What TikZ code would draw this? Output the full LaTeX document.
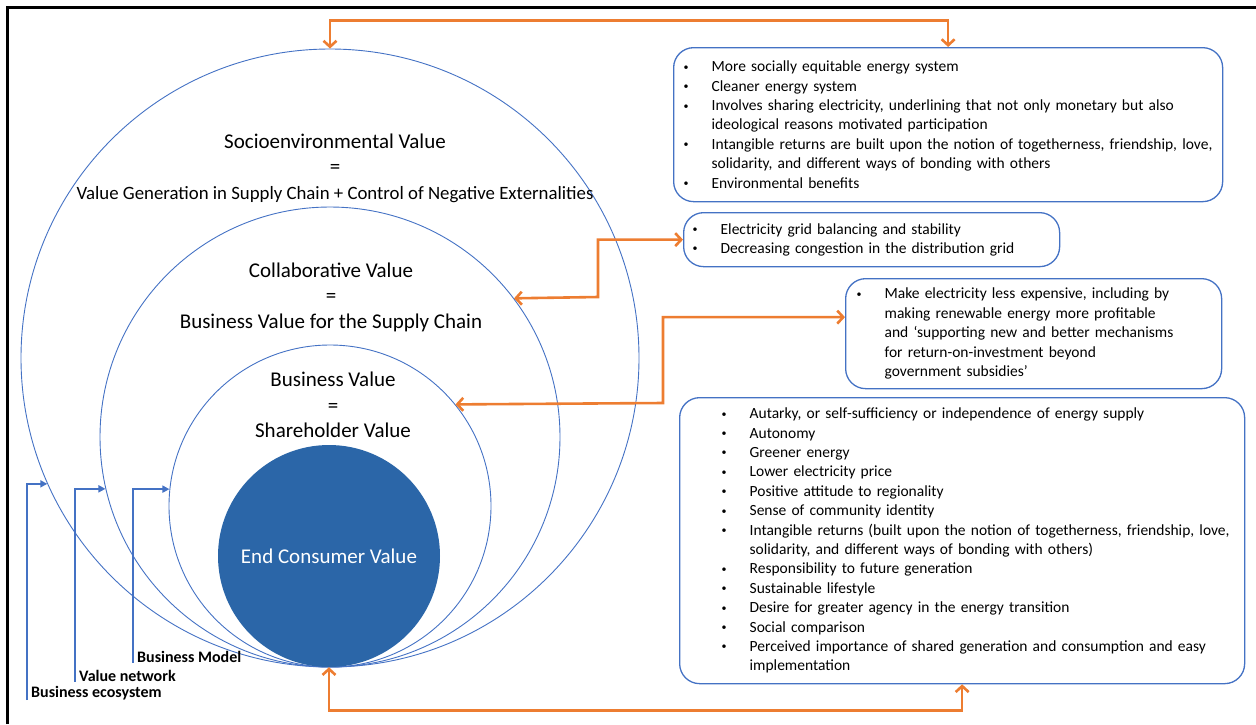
\documentclass[tikz,border=0pt]{standalone}
\usepackage{fontspec}
\setmainfont{Carlito}
\usetikzlibrary{arrows.meta}

\definecolor{dialineblue}{rgb}{0.267,0.447,0.769}
\definecolor{dialineorange}{rgb}{0.929,0.490,0.192}
\definecolor{diafillblue}{rgb}{0.17,0.40,0.66}

\newlength{\bulw}
\setlength{\bulw}{28pt}
\newcommand{\smallbul}{\raisebox{1.5pt}{\fontsize{10}{12}\selectfont\textbullet}}
\newcommand{\itm}[1]{\mbox{\makebox[\bulw][l]{\smallbul}#1}}
\newcommand{\cnt}[1]{\mbox{\hspace*{\bulw}#1}}

\tikzset{
  ring/.style={circle, draw=dialineblue, line width=0.9pt, inner sep=0pt},
  valtext/.style={font=\fontsize{21}{25.5}\selectfont, align=center, inner sep=0pt},
  listbox/.style={draw=dialineblue, line width=1.3pt, rounded corners=20pt,
    anchor=north west, align=left, inner ysep=2pt,
    font=\fontsize{15.5}{19.4}\selectfont},
  link/.style={draw=dialineorange, line width=2.6pt,
    {Straight Barb[length=6pt,width=13pt]}-{Straight Barb[length=6pt,width=13pt]}},
  levelarrow/.style={draw=dialineblue, line width=2.4pt, -{Triangle[length=7pt,width=7pt]}},
  levellabel/.style={anchor=west, inner xsep=4pt, inner ysep=0pt,
    font=\fontsize{16}{19}\selectfont\bfseries},
}

\begin{document}
\begin{tikzpicture}[x=1pt, y=-1pt]
\useasboundingbox (0,0) rectangle (1256,724);
\draw[line width=3pt] (7,724) -- (7,7) -- (1256,7);

% nested value circles
\node[ring, minimum size=618pt] (outer) at (330,358) {};
\node[ring, minimum size=460pt] (collab) at (330,437) {};
\node[ring, minimum size=322pt] (biz) at (330,506) {};
\node[circle, fill=diafillblue, inner sep=0pt, minimum size=222pt,
  text=white, font=\fontsize{21}{25}\selectfont] (consumer) at (329,556) {End Consumer Value};

\node[valtext] (sociotxt) at (335,168) {Socioenvironmental Value\\=\\{\fontsize{18.8}{22}\selectfont Value Generation in Supply Chain + Control of Negative Externalities}};
\node[valtext] (collabtxt) at (331,297) {Collaborative Value\\=\\Business Value for the Supply Chain};
\node[valtext] (biztxt) at (333,405) {Business Value\\=\\Shareholder Value};

% lists
\node[listbox, minimum width=549pt, minimum height=154pt, inner xsep=10pt, text width=529pt] (box1) at (673,47) {%
\itm{More socially equitable energy system}\\
\itm{Cleaner energy system}\\
\itm{Involves sharing electricity, underlining that not only monetary but also}\\
\cnt{ideological reasons motivated participation}\\
\itm{Intangible returns are built upon the notion of togetherness, friendship, love,}\\
\cnt{solidarity, and different ways of bonding with others}\\
\itm{Environmental benefits}};

\node[listbox, minimum width=376pt, minimum height=54pt, inner xsep=9pt, text width=358pt] (box2) at (683,212) {%
\itm{Electricity grid balancing and stability}\\
\itm{Decreasing congestion in the distribution grid}};

\node[listbox, minimum width=376pt, minimum height=110pt, inner xsep=11pt, text width=354pt] (box3) at (845,278) {%
\itm{Make electricity less expensive, including by}\\
\cnt{making renewable energy more profitable}\\
\cnt{and `supporting new and better mechanisms}\\
\cnt{for return-on-investment beyond}\\
\cnt{government subsidies'}};

\node[listbox, minimum width=565pt, minimum height=286pt, inner xsep=42pt, text width=481pt] (box4) at (679,397) {%
\itm{Autarky, or self-sufficiency or independence of energy supply}\\
\itm{Autonomy}\\
\itm{Greener energy}\\
\itm{Lower electricity price}\\
\itm{Positive attitude to regionality}\\
\itm{Sense of community identity}\\
\itm{Intangible returns (built upon the notion of togetherness, friendship, love,}\\
\cnt{solidarity, and different ways of bonding with others)}\\
\itm{Responsibility to future generation}\\
\itm{Sustainable lifestyle}\\
\itm{Desire for greater agency in the energy transition}\\
\itm{Social comparison}\\
\itm{Perceived importance of shared generation and consumption and easy}\\
\cnt{implementation}};

% orange links
\draw[link] (outer.north) -- ++(0,-28) -| (box1.north);
\draw[link] (collab.37.5) -- (598,297) |- (box2.west);
\draw[link] (biz.39.7) -- (663,403) |- (box3.175);
\draw[link] (consumer.south) -- ++(0,43) -| (box4.south);

% levels
\node[levellabel] (lbleco) at (27,693) {Business ecosystem};
\node[levellabel] (lblnet) at (75,676) {Value network};
\node[levellabel] (lblmod) at (133,657) {Business Model};
\draw[levelarrow] (lbleco.south west) |- (outer.204.7);
\draw[levelarrow] (lblnet.south west) |- (collab.193.3);
\draw[levelarrow] (lblmod.south west) |- (biz.174.3);
\end{tikzpicture}
\end{document}
